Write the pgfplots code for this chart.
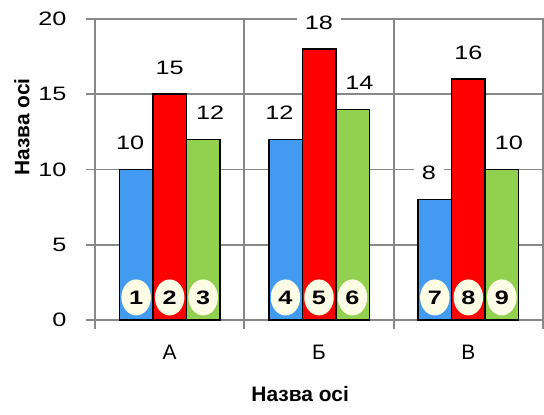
\documentclass[border=0pt]{standalone}
\usepackage{fontspec}
\setmainfont{Liberation Sans}
\newfontfamily\numfont[FakeStretch=1.3]{Liberation Sans}
\usepackage{pgfplots}
\pgfplotsset{compat=1.18}
\usetikzlibrary{shapes.geometric}
\definecolor{barblue}{RGB}{66,155,240}
\definecolor{barred}{RGB}{255,0,0}
\definecolor{bargreen}{RGB}{146,208,80}
\definecolor{gridgray}{RGB}{136,136,136}
\definecolor{cream}{RGB}{253,253,230}
\tikzset{
  vallabel/.style={font=\numfont\fontsize{19.5}{22}\selectfont, anchor=center, yshift=26.5bp, fill=white, inner xsep=8bp, inner ysep=3bp, text=black},
  numell/.style={ellipse, fill=cream, minimum width=29.5bp, minimum height=36bp, inner sep=0pt, anchor=center, font=\bfseries\numfont\fontsize{19.5}{22}\selectfont, text=black},
}
\begin{document}
\begin{tikzpicture}
\begin{axis}[
  name=ax,
  width=448bp, height=301bp, scale only axis,
  xmin=-0.5, xmax=2.5, ymin=0, ymax=20,
  xtick={0,1,2}, xticklabels={А,Б,В},
  minor xtick={-0.5,0.5,1.5,2.5},
  ytick={0,5,10,15,20},
  xmajorgrids=false, xminorgrids=true, ymajorgrids=true,
  grid style={gridgray, line width=1.8bp},
  minor grid style={gridgray, line width=1.8bp},
  axis line style={gridgray, line width=1.8bp},
  tick style={gridgray, line width=1.8bp},
  major x tick style={draw=none},
  tick align=outside, tick pos=left,
  major tick length=9bp, minor tick length=9bp,
  /pgf/number format/assume math mode=true,
  yticklabel style={font=\numfont\fontsize{19.5}{22}\selectfont, xshift=-16bp},
  xticklabel style={font=\fontsize{21}{24}\selectfont, yshift=-13bp},
  xlabel={Назва осі}, ylabel={Назва осі},
  xlabel style={font=\bfseries\fontsize{21}{24}\selectfont, at={(rel axis cs:0.458,-0.246)}, anchor=center},
  ylabel style={font=\bfseries\fontsize{21}{24}\selectfont, at={(rel axis cs:-0.163,0.641)}, anchor=center},
]
\addplot[ybar, bar width=33.5bp, bar shift=-33.5bp, fill=barblue, draw=black, line width=1.5bp,
  nodes near coords, nodes near coords style={vallabel, xshift=-39.5bp}] coordinates {(0,10) (1,12) (2,8)};
\addplot[ybar, bar width=33.5bp, bar shift=0bp, fill=barred, draw=black, line width=1.5bp,
  nodes near coords, nodes near coords style={vallabel}] coordinates {(0,15) (1,18) (2,16)};
\addplot[ybar, bar width=33.5bp, bar shift=33.5bp, fill=bargreen, draw=black, line width=1.5bp,
  nodes near coords, nodes near coords style={vallabel, xshift=40.5bp}] coordinates {(0,12) (1,14) (2,10)};
\addplot[draw=none, nodes near coords, point meta=explicit symbolic,
  nodes near coords style={numell, xshift=-33.5bp}]
  coordinates {(0,1.5)[1] (1,1.5)[4] (2,1.5)[7]};
\addplot[draw=none, nodes near coords, point meta=explicit symbolic,
  nodes near coords style={numell}]
  coordinates {(0,1.5)[2] (1,1.5)[5] (2,1.5)[8]};
\addplot[draw=none, nodes near coords, point meta=explicit symbolic,
  nodes near coords style={numell, xshift=33.5bp}]
  coordinates {(0,1.5)[3] (1,1.5)[6] (2,1.5)[9]};
\end{axis}
\pgfresetboundingbox
\path[use as bounding box] ([shift={(-95bp,-95bp)}]ax.south west) rectangle ([shift={(449bp,320bp)}]ax.south west);
\end{tikzpicture}
\end{document}
